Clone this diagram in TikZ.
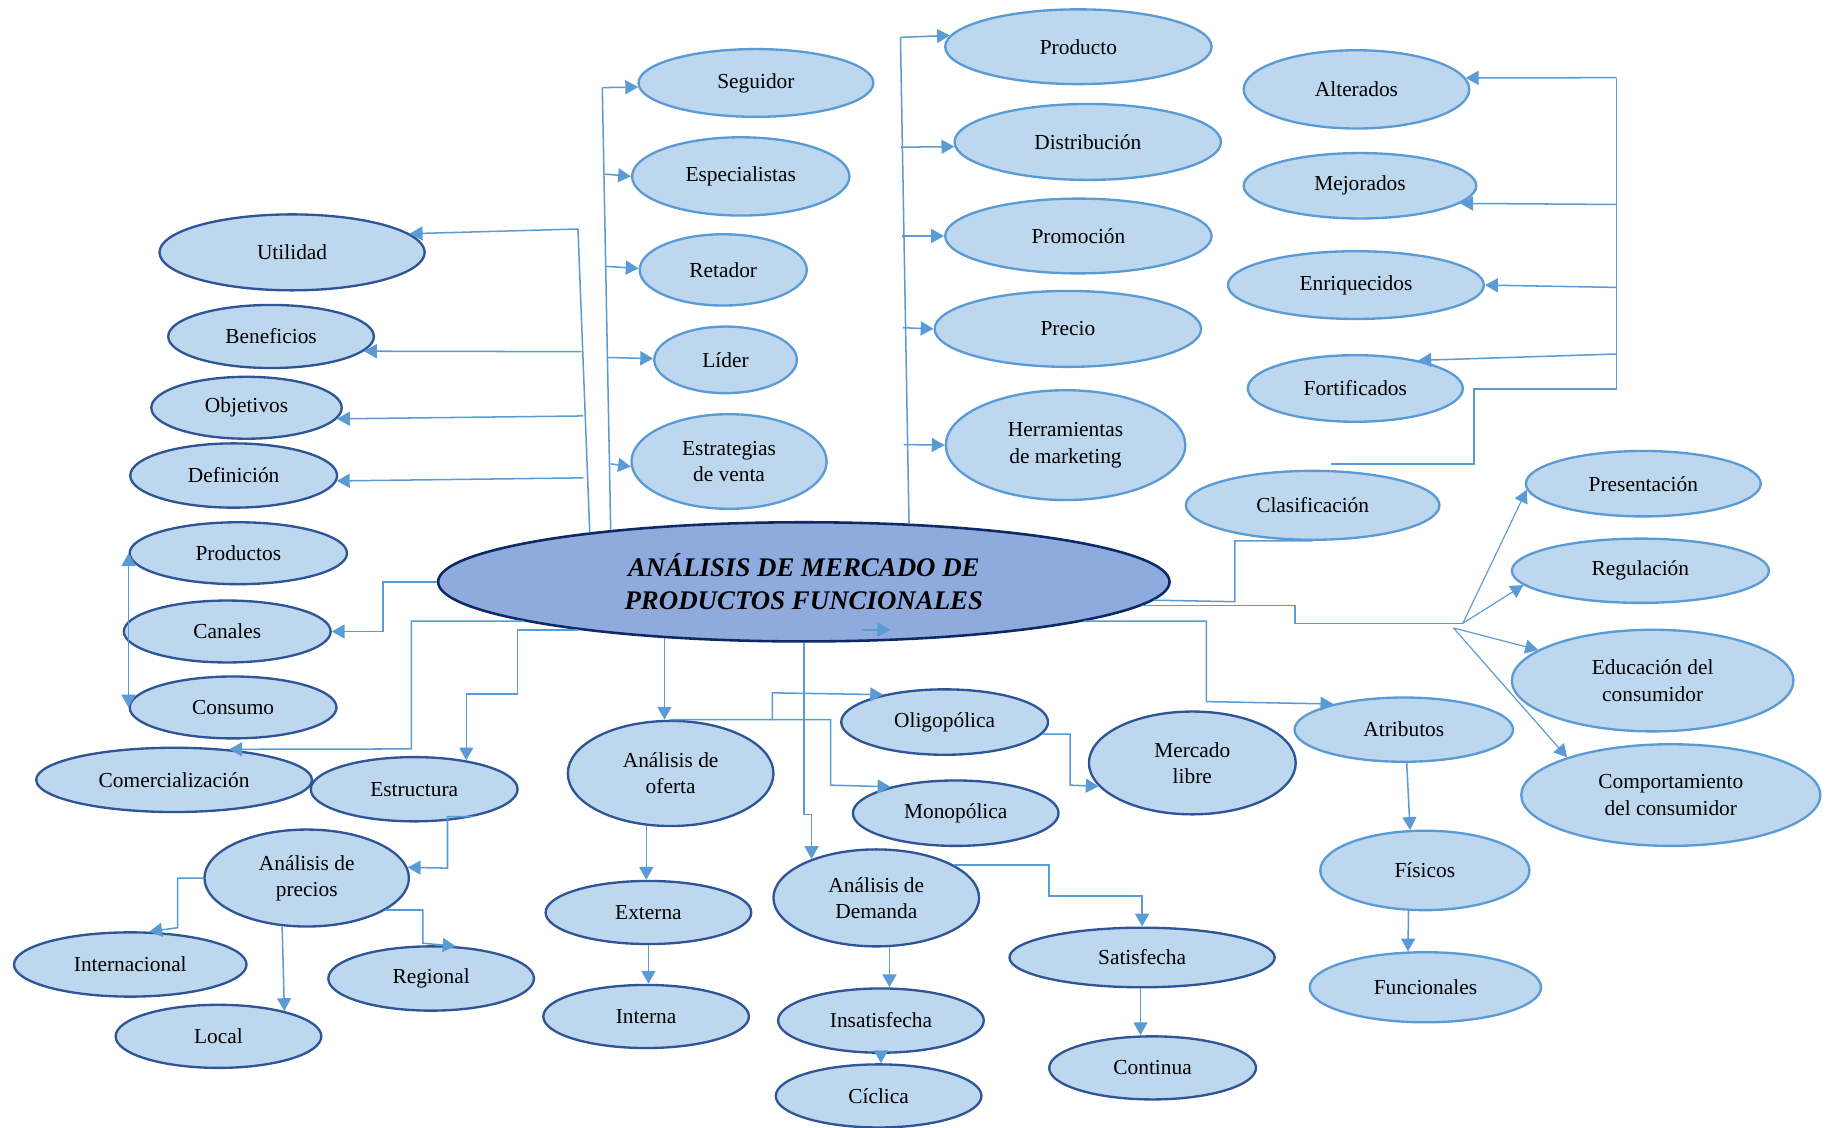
\documentclass[tikz,border=0pt]{standalone}
\usepackage{fontspec}
\setmainfont{Liberation Serif}
\usetikzlibrary{arrows.meta,shapes.geometric}
\definecolor{fillb}{HTML}{BDD7EE}
\definecolor{edgel}{HTML}{5B9BD5}
\definecolor{edged}{HTML}{2F5597}
\definecolor{corefill}{HTML}{8FAADC}
\definecolor{coreedge}{HTML}{0E2A66}
\definecolor{link}{HTML}{5B9BD5}
\begin{document}
\begin{tikzpicture}[x=1pt,y=-1pt,
  base/.style={ellipse, fill=fillb, line width=2pt, inner sep=0pt, align=center,
    font=\fontsize{18.3}{22.5}\selectfont},
  lt/.style={base, draw=edgel},
  dk/.style={base, draw=edged},
  sz/.style 2 args={minimum width=#1pt, minimum height=#2pt},
  core/.style={ellipse, fill=corefill, draw=coreedge, line width=2.2pt, inner sep=0pt,
    align=center, font=\fontsize{23}{28}\selectfont\bfseries\itshape},
  ln/.style={color=link, line width=1.3pt},
  tip/.tip={Triangle[length=11pt,width=12pt]},
  arr/.style={ln, -tip},
  fan/.style={arr, line width=1pt}
]
\useasboundingbox (0,0) rectangle (1568,965);

% central concept
\node[core, sz={626}{102}] (core) at (688,498) {ANÁLISIS DE MERCADO DE\\PRODUCTOS FUNCIONALES};

% left column
\node[dk, sz={227}{65}] (util) at (250,216) {Utilidad};
\node[dk, sz={176}{54}] (bene) at (232,288) {Beneficios};
\node[dk, sz={163}{53}] (obje) at (211,349) {Objetivos};
\node[dk, sz={177}{55}] (defi) at (200,407) {Definición};
\node[dk, sz={186}{53}] (prds) at (204,473.5) {Productos};
\node[dk, sz={177}{53}] (cana) at (194.5,540.5) {Canales};
\node[dk, sz={177}{53}] (cons) at (199.5,605.5) {Consumo};
\node[dk, sz={236}{55}] (come) at (149,667.5) {Comercialización};
\node[dk, sz={177}{55}] (estu) at (354.5,675.5) {Estructura};
\node[dk, sz={175}{83}] (prec) at (262.5,751.5) {Análisis de\\precios};
\node[dk, sz={199}{55}] (intl) at (111.5,825.5) {Internacional};
\node[dk, sz={176}{55}] (regi) at (369,837.5) {Regional};
\node[dk, sz={176}{54}] (loca) at (187,887) {Local};

% competitive position
\node[lt, sz={201}{58}] (segu) at (647,71) {Seguidor};
\node[lt, sz={186}{67}] (espe) at (634,151) {Especialistas};
\node[lt, sz={143}{61}] (reta) at (619,231) {Retador};
\node[lt, sz={122}{57}] (lide) at (621,308) {Líder};
\node[lt, sz={167}{81}] (estr) at (624,395) {Estrategias\\de venta};

% marketing mix
\node[lt, sz={228}{64}] (prod) at (923,40) {Producto};
\node[lt, sz={228}{65}] (dist) at (931,121.5) {Distribución};
\node[lt, sz={228}{64}] (prom) at (923,202) {Promoción};
\node[lt, sz={228}{65}] (prc) at (914,281.5) {Precio};
\node[lt, sz={205}{94}] (herr) at (912,381) {Herramientas\\de marketing};

% classification
\node[lt, sz={193}{67}] (alte) at (1161,76.5) {Alterados};
\node[lt, sz={199}{56}] (mejo) at (1164,159) {Mejorados};
\node[lt, sz={219}{58}] (enri) at (1160.5,244) {Enriquecidos};
\node[lt, sz={184}{57}] (fort) at (1160,332.5) {Fortificados};
\node[lt, sz={217}{59}] (clas) at (1123.5,432.5) {Clasificación};

% right group
\node[lt, sz={201}{56}] (pres) at (1406.5,414) {Presentación};
\node[lt, sz={220}{55}] (regu) at (1404,488.5) {Regulación};
\node[lt, sz={241}{87}] (educ) at (1414.5,582.5) {Educación del\\consumidor};
\node[lt, sz={256}{87}] (comp) at (1430,680.5) {Comportamiento\\del consumidor};
\node[lt, sz={187}{55}] (atri) at (1201.5,624.5) {Atributos};
\node[lt, sz={179}{68}] (fisi) at (1219.5,745) {Físicos};
\node[lt, sz={198}{60}] (func) at (1220,845) {Funcionales};

% supply and demand
\node[dk, sz={176}{90}] (ofer) at (574,662) {Análisis de\\oferta};
\node[dk, sz={177}{56}] (olig) at (808.5,618) {Oligopólica};
\node[dk, sz={176}{56}] (mono) at (818,696) {Monopólica};
\node[dk, sz={177}{88}] (merc) at (1020.5,653) {Mercado\\libre};
\node[dk, sz={176}{54}] (exte) at (555,781) {Externa};
\node[dk, sz={176}{54}] (intr) at (553,870) {Interna};
\node[dk, sz={176}{83}] (dema) at (750,768.5) {Análisis de\\Demanda};
\node[dk, sz={176}{55}] (insa) at (754,873.5) {Insatisfecha};
\node[dk, sz={176}{54}] (cicl) at (752,938) {Cíclica};
\node[dk, sz={227}{51}] (sati) at (977.5,819.5) {Satisfecha};
\node[dk, sz={177}{54}] (cont) at (986.5,914) {Continua};

% bracket: utility, benefits, objectives, definition
\coordinate (t1a) at (494.7,196);
\coordinate (t1b) at (497.8,301);
\coordinate (t1c) at (499,356);
\coordinate (t1d) at (499.3,409);
\draw[ln] (t1a) -- (core.167.8);
\draw[arr] (t1a) -- (util.9.5);
\draw[arr] (t1b) -- (bene.-9.3);
\draw[arr] (t1c) -- (obje.-7.1);
\draw[arr] (t1d) -- (defi.-3.4);

% bracket: competitive position
\coordinate (t2a) at (515.5,75);
\coordinate (t2b) at (517.5,149);
\coordinate (t2c) at (518.5,228);
\coordinate (t2d) at (520.5,306);
\coordinate (t2e) at (522.5,397);
\draw[ln] (t2a) -- (core.165.2);
\draw[arr] (t2a) -- (segu.182);
\draw[arr] (t2b) -- (espe.180);
\draw[arr] (t2c) -- (reta.179);
\draw[arr] (t2d) -- (lide.179);
\draw[arr] (t2e) -- (estr.183);

% bracket: marketing mix
\coordinate (t3a) at (770.7,32);
\coordinate (t3b) at (771.3,126);
\coordinate (t3c) at (772,202);
\coordinate (t3d) at (772.7,280.5);
\coordinate (t3e) at (773.3,380.5);
\draw[ln] (t3a) -- (core.29.9);
\draw[arr] (t3a) -- (prod.175.5);
\draw[arr] (t3b) -- (dist.182);
\draw[arr] (t3c) -- (prom.180);
\draw[arr] (t3d) -- (prc.180);
\draw[arr] (t3e) -- (herr.180);

% bracket: classification kinds
\coordinate (r0) at (1383.5,66.5);
\coordinate (r1) at (1383.5,175);
\coordinate (r2) at (1383.5,246);
\coordinate (r3) at (1383.5,303);
\coordinate (r4) at (1383.5,333);
\coordinate (rend) at (1139,397);
\draw[ln] (r0) -- (r4) -| (1261.5,397) -- (rend);
\draw[arr] (r0) -- (alte.6);
\draw[arr] (r1) -- (mejo.-10.4);
\draw[arr] (r2) -- (enri.0);
\draw[arr] (r3) -- (fort.24);
\draw[ln] (clas.south) -| (1057,515) -- (core.-3.3);

% right fan
\coordinate (h1) at (1252,533.5);
\coordinate (h2) at (1244,537.5);
\draw[ln] (core.-4.9) -| (1108.4,533.5) -- (h1);
\draw[fan] (h1) -- (pres.183);
\draw[fan] (h1) -- (regu.187);
\draw[fan] (h2) -- (educ.165.6);
\draw[fan] (h2) -- (comp.160);

% attributes chain
\draw[arr] (core.-8.5) -| (1032.5,600.5) -- (atri.160);
\draw[arr] (atri.-85) -- (fisi.110);
\draw[arr] (fisi.248) -- (func.116.6);

% left links
\draw[arr] (core.west) -| (328,540.5) -- (cana.east);
\draw[ln, tip-tip] (prds.west) -- (cons.west);
\draw[arr] (core.188.7) -| (352,641) -- (come.29);
\draw[arr] (core.192.4) -| (443,594) -| (estu.29);
\draw[arr] (estu.-25) -| (383,743) -- (prec.6);
\draw[arr] (prec.west) -| (152,794) -- (intl.60);
\draw[arr] (prec.243) -- (loca.21);
\draw[arr] (prec.-22) -| (362,807.3) -- (regi.53);

% supply
\coordinate (j1) at (661,616);
\draw[arr] (core.202) -- (core.202 |- ofer.north);
\draw[arr] (ofer.north) -| (661,593) -- (olig.156);
\draw[arr] (j1) -| (711,672) -- (mono.158);
\draw[arr] (olig.-7) -| (916,672) -- (merc.194);
\draw[arr] (ofer.245) -- (ofer.245 |- exte.north);
\draw[arr] (exte.south) -- (exte.south |- intr.north);

% demand
\coordinate (s1) at (738,539);
\coordinate (s2) at (762,539);
\draw[arr] (s1) -- (s2);
\draw[arr] (core.south) -- (688,697) -| (dema.149.4);
\draw[arr] (dema.-75) -- (dema.-75 |- insa.north);
\draw[arr] (insa.south) -- (insa.south |- cicl.north);
\draw[arr] (dema.23) -| (898,767) -| (sati.north);
\draw[arr] (sati.-93) -- (sati.-93 |- cont.north);
\end{tikzpicture}
\end{document}
